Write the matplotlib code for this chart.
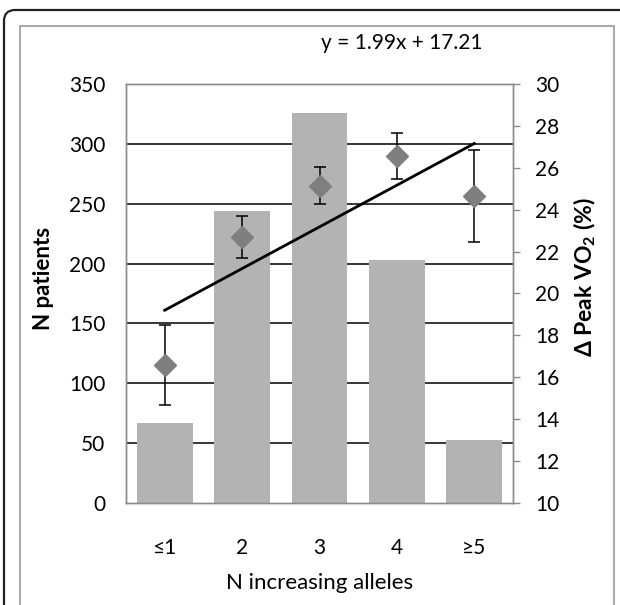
import numpy as np
import matplotlib
matplotlib.use("Agg")
import matplotlib.pyplot as plt
from matplotlib.patches import FancyBboxPatch, Rectangle

plt.rcParams['font.family'] = ['Lato', 'DejaVu Sans']
plt.rcParams['mathtext.default'] = 'regular'

# data
categories = ['≤1', '2', '3', '4', '≥5']
n_patients = [67, 244, 326, 203, 53]
peak_vo2 = [16.6, 22.7, 25.15, 26.55, 24.65]
vo2_err = [1.9, 1.0, 0.9, 1.1, 2.2]
trend_slope = 1.99
trend_intercept = 17.21
left_ticks = [0, 50, 100, 150, 200, 250, 300, 350]
right_ticks = [10, 12, 14, 16, 18, 20, 22, 24, 26, 28, 30]

W, H = 620, 605
fig = plt.figure(figsize=(W / 100, H / 100), dpi=100)

def px(x, y):
    return x / W, 1 - y / H

# frames around the chart
outer = FancyBboxPatch(px(4, 640), (700 - 4) / W, (640 - 10) / H,
                       boxstyle="round,pad=0,rounding_size=0.018",
                       transform=fig.transFigure, fill=False,
                       edgecolor='#222222', lw=1.6)
fig.patches.append(outer)
inner = Rectangle(px(20, 640), (614 - 20) / W, (640 - 26) / H,
                  transform=fig.transFigure, fill=False,
                  edgecolor='#999999', lw=1.2)
fig.patches.append(inner)

x0, x1, y0, y1 = 126, 513, 84, 503
ax = fig.add_axes([x0 / W, 1 - y1 / H, (x1 - x0) / W, (y1 - y0) / H])
ax2 = ax.twinx()

xpos = np.arange(len(categories))
ax.set_axisbelow(True)
ax.bar(xpos, n_patients, width=0.72, color='#b3b3b3', zorder=2)
for t in left_ticks[1:-1]:
    ax.axhline(t, color='black', lw=1.1, zorder=1)
ax.set_xlim(-0.5, len(categories) - 0.5)
ax.set_ylim(0, 350)
ax.set_yticks(left_ticks)
ax.set_xticks(xpos)
ax.set_xticklabels(categories)
ax.tick_params(axis='y', length=0, pad=15, labelsize=15)
ax.tick_params(axis='x', length=0, pad=25, labelsize=15)
for s in ax.spines.values():
    s.set_color('#8c8c8c')
    s.set_linewidth(1.0)

ax2.errorbar(xpos, peak_vo2, yerr=vo2_err, fmt='D', color='#7f7f7f',
             markersize=11, ecolor='black', elinewidth=1.1, capsize=4,
             capthick=1.1, zorder=3)
tx = np.array([xpos[0], xpos[-1]])
ax2.plot(tx, trend_slope * (tx + 1) + trend_intercept, color='black', lw=2, zorder=4)
ax2.set_ylim(10, 30)
ax2.set_yticks(right_ticks)
ax2.tick_params(axis='y', length=5, width=1, color='#8c8c8c', pad=11, labelsize=15)
for s in ax2.spines.values():
    s.set_color('#8c8c8c')
    s.set_linewidth(1.0)

fig.text(*px(402, 43), 'y = 1.99x + 17.21', ha='center', va='center', fontsize=15)
fig.text(*px(43, 278), 'N patients', rotation=90, ha='center', va='center',
         fontsize=16, fontweight='bold')
fig.text(*px(585, 277), 'Δ Peak VO$_2$ (%)', rotation=90, ha='center', va='center',
         fontsize=16.5, fontweight='bold')
fig.text(*px(320, 583), 'N increasing alleles', ha='center', va='center', fontsize=16)

fig.savefig('out.png', dpi=100)
